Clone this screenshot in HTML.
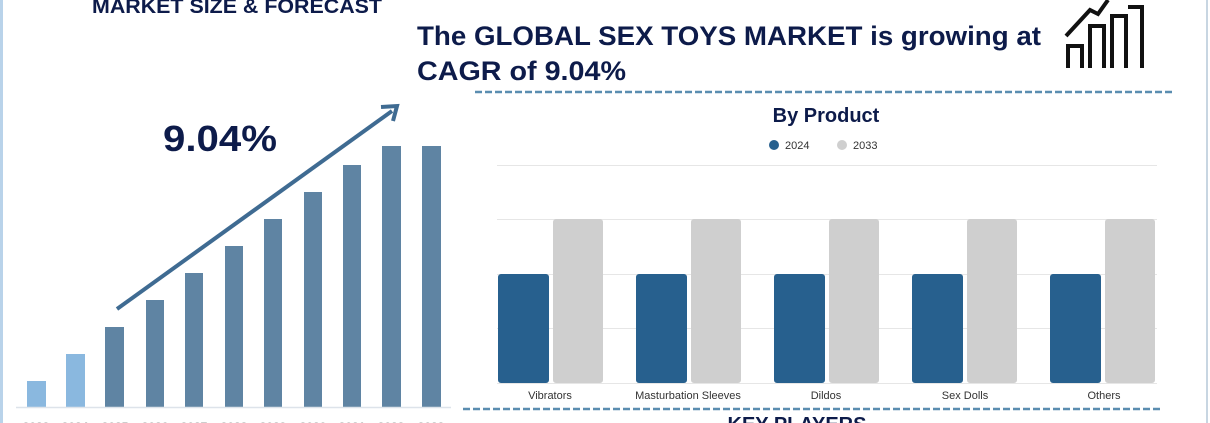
<!DOCTYPE html>
<html><head><meta charset="utf-8"><style>
body{margin:0;width:1210px;height:423px;overflow:hidden;background:#fff;font-family:"Liberation Sans",sans-serif}
</style></head><body>
<svg width="1210" height="423" xmlns="http://www.w3.org/2000/svg" style="position:absolute;left:0;top:0">
<rect x="0" y="0" width="3" height="423" fill="#b9d3ea"/>
<rect x="1206" y="0" width="2" height="423" fill="#c8d6e2"/>
<text x="92" y="13" font-size="20" font-weight="bold" fill="#0d1b4a" textLength="290" lengthAdjust="spacingAndGlyphs">MARKET SIZE &amp; FORECAST</text>
<g fill="#5f84a3">
<rect x="27" y="381" width="19" height="26" fill="#8ab8df"/>
<rect x="66" y="354" width="19" height="53" fill="#8ab8df"/>
<rect x="105" y="327" width="19" height="80"/>
<rect x="146" y="300" width="18" height="107"/>
<rect x="185" y="273" width="18" height="134"/>
<rect x="225" y="246" width="18" height="161"/>
<rect x="264" y="219" width="18" height="188"/>
<rect x="304" y="192" width="18" height="215"/>
<rect x="343" y="165" width="18" height="242"/>
<rect x="382" y="146" width="19" height="261"/>
<rect x="422" y="146" width="19" height="261"/>
</g>
<line x1="16" y1="407.5" x2="451" y2="407.5" stroke="#dde3ea" stroke-width="1.5"/>
<g font-size="12" fill="#999" font-weight="bold">
<text x="36" y="431" text-anchor="middle">2023</text><text x="75" y="431" text-anchor="middle">2024</text><text x="115" y="431" text-anchor="middle">2025</text><text x="155" y="431" text-anchor="middle">2026</text><text x="194" y="431" text-anchor="middle">2027</text><text x="234" y="431" text-anchor="middle">2028</text><text x="273" y="431" text-anchor="middle">2029</text><text x="313" y="431" text-anchor="middle">2030</text><text x="352" y="431" text-anchor="middle">2031</text><text x="391" y="431" text-anchor="middle">2032</text><text x="431" y="431" text-anchor="middle">2033</text>
</g>
<line x1="117" y1="309" x2="392" y2="111" stroke="#3f6b92" stroke-width="4"/>
<polyline points="381,107 397,106 393,121" fill="none" stroke="#3f6b92" stroke-width="4"/>
<text x="163" y="151" font-size="36" font-weight="bold" fill="#0d1b4a" textLength="114" lengthAdjust="spacingAndGlyphs">9.04%</text>
<g font-size="27" font-weight="bold" fill="#0d1b4a">
<text x="417" y="45" textLength="624" lengthAdjust="spacingAndGlyphs">The GLOBAL SEX TOYS MARKET is growing at</text>
<text x="417" y="80" textLength="209" lengthAdjust="spacingAndGlyphs">CAGR of 9.04%</text>
</g>
<g fill="none" stroke="#111" stroke-width="4">
<polyline points="1068,68 1068,46 1082,46 1082,68"/>
<polyline points="1090,68 1090,26 1104,26 1104,68"/>
<polyline points="1112,68 1112,16 1126,16 1126,68"/>
<polyline points="1128,7 1142,7 1142,68"/>
<polyline points="1066,36 1090,10 1098,14 1108,0"/>
</g>
<line x1="475" y1="92" x2="1175" y2="92" stroke="#5a8db0" stroke-width="2.5" stroke-dasharray="7,3"/>
<text x="826" y="122" text-anchor="middle" font-size="20" font-weight="bold" fill="#0d1b4a">By Product</text>
<circle cx="774" cy="145" r="5" fill="#27608e"/><text x="785" y="149" font-size="11" fill="#333">2024</text>
<circle cx="842" cy="145" r="5" fill="#cfcfcf"/><text x="853" y="149" font-size="11" fill="#333">2033</text>
<g stroke="#e6e6e6" stroke-width="1">
<line x1="497" y1="165.5" x2="1157" y2="165.5"/><line x1="497" y1="219.5" x2="1157" y2="219.5"/><line x1="497" y1="274.5" x2="1157" y2="274.5"/><line x1="497" y1="328.5" x2="1157" y2="328.5"/><line x1="497" y1="383.5" x2="1157" y2="383.5"/>
</g>
<g>
<rect x="498" y="274" width="51" height="109" rx="3" fill="#27608e"/><rect x="553" y="219" width="50" height="164" rx="3" fill="#cfcfcf"/>
<rect x="636" y="274" width="51" height="109" rx="3" fill="#27608e"/><rect x="691" y="219" width="50" height="164" rx="3" fill="#cfcfcf"/>
<rect x="774" y="274" width="51" height="109" rx="3" fill="#27608e"/><rect x="829" y="219" width="50" height="164" rx="3" fill="#cfcfcf"/>
<rect x="912" y="274" width="51" height="109" rx="3" fill="#27608e"/><rect x="967" y="219" width="50" height="164" rx="3" fill="#cfcfcf"/>
<rect x="1050" y="274" width="51" height="109" rx="3" fill="#27608e"/><rect x="1105" y="219" width="50" height="164" rx="3" fill="#cfcfcf"/>
</g>
<g font-size="11" fill="#333" text-anchor="middle">
<text x="550" y="399">Vibrators</text><text x="688" y="399">Masturbation Sleeves</text><text x="826" y="399">Dildos</text><text x="965" y="399">Sex Dolls</text><text x="1104" y="399">Others</text>
</g>
<line x1="463" y1="409" x2="1163" y2="409" stroke="#5a8db0" stroke-width="2.5" stroke-dasharray="7,3"/>
<text x="797" y="431" text-anchor="middle" font-size="20" font-weight="bold" fill="#0d1b4a">KEY PLAYERS</text>
</svg>
</body></html>
